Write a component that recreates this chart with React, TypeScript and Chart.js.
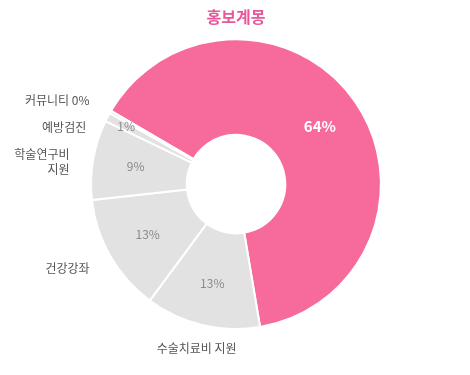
import React, { useEffect, useRef } from 'react';
import { Chart, registerables } from 'chart.js';

Chart.register(...registerables);

const CATEGORIES = ['홍보계몽', '수술치료비 지원', '건강강좌', '학술연구비 지원', '예방검진', '커뮤니티'];
const VALUES = [63.9, 12.8, 13.1, 8.9, 1.0, 0.3];
const COLORS = ['#F76B9C', '#E2E2E2', '#E2E2E2', '#E2E2E2', '#E2E2E2', '#E2E2E2'];
const TITLE = '홍보계몽';

const FONT = "'Noto Sans CJK KR', 'Noto Sans', sans-serif";

const labelPlugin = {
  id: 'sliceLabels',
  afterDatasetsDraw(chart: any) {
    const ctx = chart.ctx as CanvasRenderingContext2D;
    const meta = chart.getDatasetMeta(0);
    const total = VALUES.reduce((a, b) => a + b, 0);
    const outside: any[] = [];
    const lineH = 15;
    meta.data.forEach((arc: any, i: number) => {
      const p = arc.getProps(['x', 'y', 'startAngle', 'endAngle', 'innerRadius', 'outerRadius'], true);
      const mid = (p.startAngle + p.endAngle) / 2;
      const share = (VALUES[i] / total) * 100;
      const pct = Math.round(share);
      const cos = Math.cos(mid);
      const sin = Math.sin(mid);
      if (pct >= 1) {
        const f = share < 3 ? 0.78 : 0.55;
        const r = p.innerRadius + (p.outerRadius - p.innerRadius) * f;
        ctx.save();
        ctx.font = i === 0 ? `bold 15px ${FONT}` : `12px ${FONT}`;
        ctx.fillStyle = i === 0 ? '#ffffff' : '#8a8a8a';
        ctx.textAlign = 'center';
        ctx.textBaseline = 'middle';
        ctx.fillText(pct + '%', p.x + r * cos, p.y + r * sin);
        ctx.restore();
      }
      if (i === 0) return;
      const text = pct < 1 ? `${CATEGORIES[i]} ${pct}%` : CATEGORIES[i];
      const align = Math.abs(cos) < 0.35 ? 'center' : cos < 0 ? 'right' : 'left';
      ctx.save();
      ctx.font = `12px ${FONT}`;
      let lines = [text];
      if (align !== 'center' && ctx.measureText(text).width > 78 && text.lastIndexOf(' ') > 0) {
        const k = text.lastIndexOf(' ');
        lines = [text.slice(0, k), text.slice(k + 1)];
      }
      ctx.restore();
      const r = p.outerRadius + 24;
      outside.push({
        lines,
        align,
        x: p.x + r * cos,
        y: p.y + r * sin,
        h: lines.length * lineH,
        side: cos < 0 ? 'L' : 'R',
      });
    });
    ['L', 'R'].forEach((side) => {
      const group = outside.filter((o) => o.side === side && o.align !== 'center').sort((a, b) => a.y - b.y);
      let prevBottom = -Infinity;
      group.forEach((o) => {
        let top = o.y - o.h / 2;
        if (top < prevBottom + 12) top = prevBottom + 12;
        o.y = top + o.h / 2;
        prevBottom = top + o.h;
      });
    });
    ctx.save();
    ctx.font = `12px ${FONT}`;
    ctx.fillStyle = '#555555';
    ctx.textBaseline = 'middle';
    outside.forEach((o) => {
      ctx.textAlign = o.align;
      const top = o.y - o.h / 2 + lineH / 2;
      o.lines.forEach((ln: string, j: number) => ctx.fillText(ln, o.x, top + j * lineH));
    });
    ctx.restore();
  },
};

export default function App() {
  const ref = useRef<HTMLCanvasElement | null>(null);
  useEffect(() => {
    if (!ref.current) return;
    const chart = new Chart(ref.current, {
      type: 'doughnut',
      data: {
        labels: CATEGORIES,
        datasets: [
          {
            data: VALUES,
            backgroundColor: COLORS,
            borderColor: '#ffffff',
            borderWidth: 2,
            hoverOffset: 0,
          },
        ],
      },
      options: {
        animation: false,
        responsive: true,
        maintainAspectRatio: false,
        rotation: -59.6,
        cutout: '34%',
        layout: { padding: { top: 0, bottom: 45, left: 2, right: 0 } },
        plugins: {
          legend: { display: false },
          tooltip: { enabled: false },
          title: {
            display: true,
            text: TITLE,
            color: '#E8579A',
            font: { family: FONT, size: 16, weight: 'bold' },
            padding: { top: 7, bottom: 12 },
          },
        },
      },
      plugins: [labelPlugin],
    } as any);
    return () => chart.destroy();
  }, []);
  return (
    <div style={{ position: 'fixed', left: 0, top: 0, width: 470, height: 375, background: '#fff' }}>
      <canvas ref={ref} />
    </div>
  );
}
